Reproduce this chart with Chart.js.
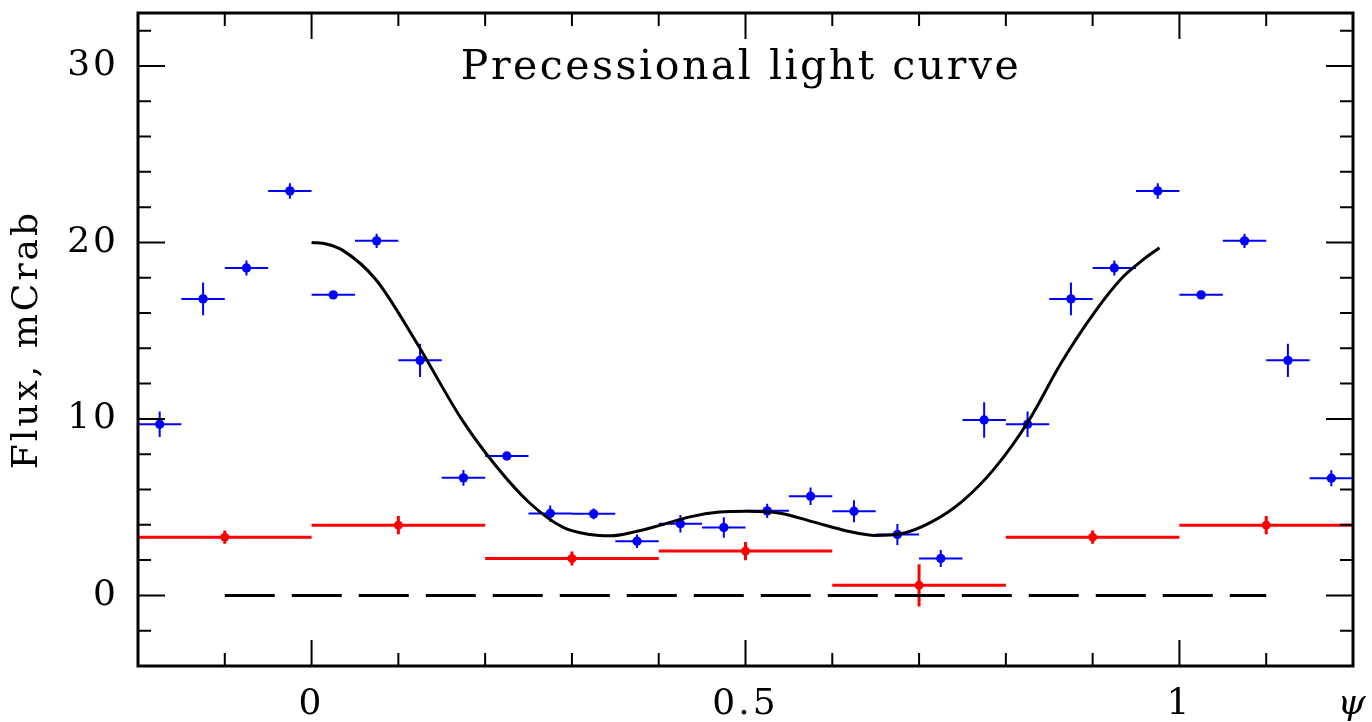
<!DOCTYPE html>
<html>
<head>
<meta charset="utf-8">
<title>Precessional light curve</title>
<script src="https://cdn.jsdelivr.net/npm/chart.js@4.4.1/dist/chart.umd.min.js"></script>
<style>
  html, body { margin: 0; padding: 0; background: #fff; }
  canvas { display: block; }
</style>
</head>
<body>
<canvas id="lightCurve" width="1372" height="722"></canvas>
<script>
// blue points: 0.05 wide phase bins, repeated over psi -0.2 .. 1.2
const bluePhase = [-0.175, -0.125, -0.075, -0.025,
  0.025, 0.075, 0.125, 0.175, 0.225, 0.275, 0.325, 0.375, 0.425, 0.475,
  0.525, 0.575, 0.625, 0.675, 0.725, 0.775, 0.825, 0.875, 0.925, 0.975,
  1.025, 1.075, 1.125, 1.175];
const blueFlux = [9.7, 16.8, 18.55, 22.92,
  17.03, 20.09, 13.32, 6.66, 7.9, 4.64, 4.62, 3.07, 4.06, 3.85,
  4.79, 5.62, 4.77, 3.45, 2.09, 9.94, 9.7, 16.8, 18.55, 22.92,
  17.03, 20.09, 13.32, 6.64];
const blueErr = [0.72, 0.93, 0.42, 0.44,
  0.2, 0.4, 0.94, 0.45, 0.2, 0.46, 0.3, 0.38, 0.5, 0.58,
  0.4, 0.5, 0.62, 0.6, 0.48, 1.0, 0.72, 0.93, 0.42, 0.44,
  0.2, 0.4, 0.94, 0.45];
const blueHalfBin = 0.025;

// red points: 0.2 wide bins
const redPhase = [-0.1, 0.1, 0.3, 0.5, 0.7, 0.9, 1.1];
const redFlux = [3.3, 3.98, 2.09, 2.51, 0.57, 3.3, 3.98];
const redErr = [0.38, 0.52, 0.4, 0.52, 1.2, 0.38, 0.52];
const redHalfBin = 0.1;

// model curve
const modelPhase = [0, 0.018, 0.036, 0.074, 0.12, 0.174, 0.213, 0.251, 0.29, 0.321, 0.345, 0.372,
  0.402, 0.436, 0.47, 0.502, 0.54, 0.579, 0.618, 0.65, 0.679, 0.714, 0.749,
  0.787, 0.826, 0.864, 0.903, 0.934, 0.955, 0.977];
const modelFlux = [20.0, 19.9, 19.55, 17.9, 14.4, 9.9, 7.3, 5.25, 3.85, 3.45, 3.38, 3.6,
  3.98, 4.45, 4.72, 4.77, 4.66, 4.15, 3.64, 3.4, 3.49, 4.15, 5.3,
  7.2, 9.87, 13.2, 16.1, 18.0, 18.9, 19.7];

// dashed zero level
const zeroPhase = [-0.1, 1.1];
const zeroFlux = [0, 0];

const xTickValues = [0, 0.5, 1, 1.2];
const xTickLabels = ['0', '0.5', '1', 'ψ'];
const xMajorTicks = [0, 0.5, 1];
const xMinorTicks = [-0.1, 0.1, 0.2, 0.3, 0.4, 0.6, 0.7, 0.8, 0.9, 1.1];
const yTickValues = [0, 10, 20, 30];
const yTickLabels = ['0', '10', '20', '30'];
const yMinorTicks = [-2, 2, 4, 6, 8, 12, 14, 16, 18, 22, 24, 26, 28, 32];

const titleText = 'Precessional light curve';
const serif = 'DejaVu Serif';

function toPoints(xs, ys) {
  return xs.map((v, i) => ({x: v, y: ys[i]}));
}

// error bars as one line with gaps between the pieces
function errorBars(phase, flux, err, half) {
  const pts = [];
  for (let i = 0; i < phase.length; i++) {
    pts.push({x: phase[i] - half, y: flux[i]}, {x: phase[i] + half, y: flux[i]}, {x: phase[i], y: null});
    pts.push({x: phase[i], y: flux[i] - err[i]}, {x: phase[i], y: flux[i] + err[i]}, {x: phase[i], y: null});
  }
  return pts;
}

// no extra room for the end labels, the frame has fixed margins
function noPadding(s) {
  s.paddingTop = 0; s.paddingBottom = 0; s.paddingLeft = 0; s.paddingRight = 0;
}

const spacingPlugin = {
  id: 'spacing',
  beforeDraw(chart) { chart.ctx.letterSpacing = '3px'; }
};

const framePlugin = {
  id: 'frame',
  afterDatasetsDraw(chart) {
    const {ctx, chartArea: a, scales: {x, y}} = chart;
    ctx.save();
    ctx.strokeStyle = '#000';
    ctx.lineWidth = 2;
    ctx.beginPath();
    const tickX = (v, len) => {
      const px = x.getPixelForValue(v);
      ctx.moveTo(px, a.bottom); ctx.lineTo(px, a.bottom - len);
      ctx.moveTo(px, a.top); ctx.lineTo(px, a.top + len);
    };
    const tickY = (v, len) => {
      const py = y.getPixelForValue(v);
      ctx.moveTo(a.left, py); ctx.lineTo(a.left + len, py);
      ctx.moveTo(a.right, py); ctx.lineTo(a.right - len, py);
    };
    xMajorTicks.forEach(v => tickX(v, 26));
    xMinorTicks.forEach(v => tickX(v, 13));
    yTickValues.forEach(v => tickY(v, 27));
    yMinorTicks.forEach(v => tickY(v, 13));
    ctx.stroke();

    ctx.lineWidth = 3;
    ctx.strokeRect(a.left, a.top, a.right - a.left, a.bottom - a.top);

    // title sits inside the frame
    ctx.fillStyle = '#000';
    ctx.font = '41px "' + serif + '"';
    ctx.letterSpacing = '2.5px';
    ctx.textAlign = 'center';
    ctx.textBaseline = 'alphabetic';
    ctx.fillText(titleText, 741, 79);
    ctx.restore();
  }
};

const config = {
  type: 'scatter',
  data: {
    datasets: [
      {
        data: toPoints(zeroPhase, zeroFlux),
        showLine: true, borderColor: '#000', borderWidth: 3, borderDash: [50, 17],
        pointRadius: 0
      },
      {
        data: toPoints(modelPhase, modelFlux),
        showLine: true, borderColor: '#000', borderWidth: 3,
        cubicInterpolationMode: 'monotone', pointRadius: 0
      },
      {
        data: errorBars(redPhase, redFlux, redErr, redHalfBin),
        showLine: true, borderColor: '#ff0000', borderWidth: 3, pointRadius: 0, spanGaps: false
      },
      {
        data: toPoints(redPhase, redFlux),
        pointRadius: 4.5, pointBackgroundColor: '#ff0000', pointBorderWidth: 0
      },
      {
        data: errorBars(bluePhase, blueFlux, blueErr, blueHalfBin),
        showLine: true, borderColor: '#0000ff', borderWidth: 2, pointRadius: 0, spanGaps: false
      },
      {
        data: toPoints(bluePhase, blueFlux),
        pointRadius: 4.7, pointBackgroundColor: '#0000ff', pointBorderWidth: 0
      }
    ]
  },
  options: {
    responsive: false,
    animation: false,
    devicePixelRatio: 1,
    layout: {padding: {top: 13, right: 19, left: 0, bottom: 0}},
    plugins: {legend: {display: false}, tooltip: {enabled: false}},
    scales: {
      x: {
        type: 'linear', min: -0.2, max: 1.2,
        afterBuildTicks: s => { s.ticks = xTickValues.map(v => ({value: v})); },
        afterFit: s => { s.height = 56; noPadding(s); },
        grid: {display: false, drawTicks: false},
        border: {display: false},
        ticks: {
          autoSkip: false, maxRotation: 0, padding: 17, color: '#000',
          font: c => (c.index === 3 ? {family: serif, size: 36, style: 'italic'} : {family: serif, size: 36}),
          callback: (v, i) => xTickLabels[i]
        }
      },
      y: {
        type: 'linear', min: -4, max: 33,
        afterBuildTicks: s => { s.ticks = yTickValues.map(v => ({value: v})); },
        afterFit: s => { s.width = 138; noPadding(s); },
        grid: {display: false, drawTicks: false},
        border: {display: false},
        ticks: {
          padding: 19, color: '#000', font: {family: serif, size: 36},
          callback: (v, i) => yTickLabels[i]
        },
        title: {
          display: true, text: 'Flux, mCrab', color: '#000',
          font: {family: serif, size: 36}, padding: {top: 6, bottom: 0}
        }
      }
    }
  },
  plugins: [spacingPlugin, framePlugin]
};

const myChart = new Chart(document.getElementById('lightCurve'), config);
</script>
</body>
</html>
